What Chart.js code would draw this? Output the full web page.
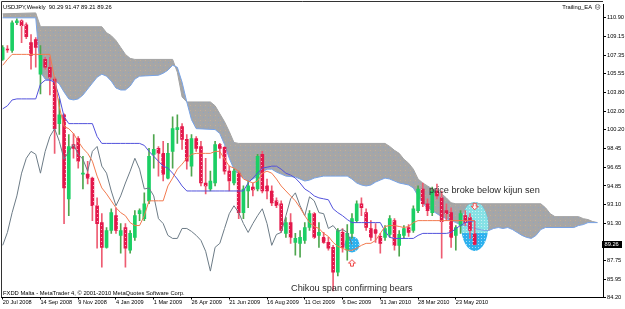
<!DOCTYPE html>
<html lang="en">
<head>
<meta charset="UTF-8">
<title>USDJPY Weekly - Ichimoku</title>
<script src="https://cdn.jsdelivr.net/npm/chart.js"></script>
<style>
  html, body { margin: 0; padding: 0; background: #fff; }
  #wrap { width: 625px; height: 309px; }
</style>
</head>
<body>
<div id="wrap"><canvas id="chart" width="625" height="309"></canvas></div>
<script>
// weekly bars, first bar = week of 20 Jul 2008, last = 20 Jun 2010
const opens = [
  106.93, 107.92, 107.78, 110.43, 110.62, 110.24, 108.54, 108.82, 105.52, 106.93,
  106.18, 105.05, 100.80, 101.65, 93.62, 98.81, 99.38, 95.98, 95.98, 95.60,
  92.96, 91.35, 88.99, 90.60, 92.01, 90.13, 90.88, 88.71, 89.94, 92.20,
  91.73, 93.43, 97.87, 98.44, 97.96, 95.60, 98.15, 100.23, 100.51, 99.29,
  96.74, 99.38, 98.62, 95.13, 94.56, 95.13, 98.81, 98.53, 96.26, 95.13,
  96.07, 92.30, 94.37, 94.75, 94.56, 97.87, 94.85, 94.37, 93.43, 93.15,
  90.32, 91.35, 89.46, 89.37, 89.65, 90.88, 92.20, 90.13, 89.94, 89.46,
  88.99, 86.63, 90.41, 88.71, 90.32, 91.54, 93.15, 92.30, 90.79, 90.69,
  90.03, 89.94, 90.22, 91.54, 89.18, 90.13, 90.88, 90.60, 92.49, 94.56,
  93.15, 92.30, 94.37, 93.71, 92.49, 92.30, 90.13, 91.07, 92.01, 91.83,
  90.29
];
const highs = [
  108.26, 108.26, 110.62, 110.81, 110.71, 110.43, 109.29, 109.01, 108.26, 107.12,
  107.12, 105.23, 103.16, 101.74, 99.76, 99.85, 99.57, 97.68, 97.21, 95.70,
  93.71, 92.20, 90.88, 92.67, 92.77, 91.26, 91.26, 90.60, 92.49, 92.67,
  94.19, 98.44, 99.76, 98.62, 99.10, 98.91, 101.46, 101.65, 100.80, 99.76,
  99.76, 99.57, 99.10, 97.49, 96.26, 99.10, 98.91, 98.62, 96.74, 96.45,
  96.26, 94.85, 95.32, 95.13, 97.87, 98.15, 95.51, 94.85, 93.71, 93.43,
  91.83, 92.20, 90.32, 90.60, 91.35, 92.49, 92.30, 91.35, 90.41, 89.94,
  89.18, 90.79, 90.79, 91.16, 92.20, 93.43, 93.71, 92.67, 91.54, 91.26,
  90.32, 91.07, 92.01, 91.73, 90.60, 91.07, 91.16, 92.96, 94.85, 95.13,
  93.62, 94.75, 95.04, 94.37, 93.15, 92.77, 91.07, 92.49, 92.49, 92.20,
  91.47
];
const lows = [
  106.84, 107.59, 107.59, 110.24, 108.54, 108.92, 105.99, 106.18, 103.63, 105.99,
  103.53, 97.96, 99.76, 91.26, 92.01, 97.49, 96.55, 94.56, 95.04, 91.54,
  88.90, 87.10, 88.90, 90.32, 90.32, 88.43, 87.10, 88.43, 89.65, 91.54,
  91.54, 93.15, 96.55, 95.79, 95.32, 95.51, 96.55, 98.90, 98.34, 96.45,
  95.79, 98.15, 94.85, 94.09, 94.37, 94.85, 97.49, 95.98, 94.37, 94.94,
  91.73, 91.73, 92.77, 93.90, 94.37, 94.19, 93.62, 92.96, 92.77, 90.41,
  89.94, 89.37, 88.24, 88.05, 89.37, 90.60, 89.84, 88.99, 89.37, 88.71,
  84.84, 86.25, 88.52, 87.76, 89.84, 91.35, 92.01, 90.60, 89.65, 89.46,
  88.43, 89.65, 89.94, 88.71, 88.14, 89.84, 90.03, 90.41, 92.30, 92.86,
  92.01, 92.01, 93.62, 87.95, 91.54, 88.99, 88.71, 90.32, 91.07, 89.84,
  89.21
];
const closes = [
  108.07, 107.83, 110.43, 110.62, 110.14, 109.11, 107.31, 108.07, 107.31, 106.18,
  105.23, 100.32, 101.65, 94.66, 98.62, 98.44, 97.21, 96.07, 95.60, 92.96,
  91.26, 88.99, 90.60, 92.30, 90.60, 90.60, 88.90, 90.32, 92.01, 92.49,
  93.15, 97.68, 98.34, 97.96, 95.98, 97.96, 100.32, 100.42, 99.29, 97.21,
  99.38, 98.44, 95.13, 94.85, 95.32, 98.81, 98.44, 96.26, 95.32, 96.26,
  92.30, 94.56, 94.85, 94.47, 97.68, 94.37, 94.37, 93.24, 92.96, 90.60,
  91.35, 89.94, 89.84, 89.94, 90.88, 92.20, 89.94, 90.41, 89.46, 88.90,
  86.63, 90.60, 88.99, 90.32, 91.73, 93.15, 92.77, 90.88, 89.94, 90.32,
  89.37, 90.79, 91.73, 89.18, 90.22, 90.79, 90.41, 92.67, 94.56, 93.15,
  92.49, 94.37, 93.90, 91.45, 92.20, 89.94, 90.88, 92.20, 91.35, 90.60,
  89.26
];

// Ichimoku lines
const tenkan = [
  106.37, 106.93, 107.41, 107.41, 107.41, 107.41, 107.41, 107.41, 107.41, 107.41,
  107.41, 105.05, 102.40, 100.51, 100.32, 99.85, 99.10, 98.44, 97.96, 97.21,
  95.79, 94.66, 94.09, 93.43, 92.77, 92.30, 92.01, 91.35, 91.07, 91.07,
  92.01, 93.43, 93.43, 93.43, 93.43, 94.85, 95.60, 96.45, 96.93, 97.49,
  97.87, 97.96, 97.96, 97.96, 97.96, 98.15, 98.15, 97.40, 96.74, 96.55,
  96.26, 95.51, 95.32, 95.13, 95.32, 96.07, 96.26, 96.07, 95.51, 94.85,
  94.37, 93.90, 93.43, 92.77, 92.01, 91.35, 90.98, 90.79, 90.32, 90.03,
  89.46, 89.08, 88.90, 88.71, 88.71, 88.90, 89.18, 89.37, 89.37, 89.65,
  90.32, 90.98, 91.07, 91.07, 90.98, 90.88, 90.98, 91.35, 91.54, 91.54,
  91.54, 91.54, 91.54, 91.54, 91.54, 91.54, 91.54, 91.54, 91.54, 91.54,
  91.54
];
const kijun = [
  102.21, 102.50, 103.06, 103.16, 103.16, 103.16, 103.16, 103.16, 104.57, 104.95,
  104.95, 104.76, 103.35, 101.46, 100.80, 100.80, 100.80, 100.80, 100.80, 100.80,
  99.57, 98.91, 98.91, 98.91, 98.91, 98.91, 98.91, 98.91, 98.91, 98.91,
  98.72, 98.15, 97.68, 97.21, 96.74, 96.55, 96.07, 95.51, 94.85, 94.37,
  94.37, 94.37, 94.37, 94.37, 94.37, 94.37, 94.37, 94.37, 94.37, 94.37,
  94.37, 94.37, 95.13, 95.60, 96.07, 96.55, 96.64, 96.74, 96.74, 96.45,
  96.07, 95.89, 95.60, 95.13, 94.56, 94.28, 93.90, 93.71, 93.62, 93.53,
  92.67, 92.30, 92.01, 91.64, 91.35, 91.35, 91.35, 91.35, 91.35, 91.35,
  91.35, 90.51, 89.94, 89.84, 89.84, 89.84, 89.84, 89.84, 90.13, 90.32,
  90.32, 90.32, 90.32, 90.32, 90.32, 90.41, 90.79, 91.07, 91.35, 91.45,
  91.54
];
// lagging span, drawn from bar 0 (26 bars back)
const chikou = [
  89.18, 90.41, 92.30, 93.90, 96.07, 97.49, 98.15, 97.87, 96.07, 98.15,
  99.57, 100.32, 99.10, 97.40, 98.15, 98.81, 97.87, 97.40, 96.26, 98.15,
  98.62, 96.74, 96.07, 94.37, 92.96, 93.90, 95.13, 96.26, 97.49, 96.45,
  94.56, 94.66, 93.90, 91.73, 91.26, 90.13, 89.84, 89.84, 90.79, 90.79,
  90.51, 90.13, 89.65, 88.61, 86.72, 88.99, 89.37, 90.79, 92.20, 92.96,
  92.30, 91.26, 90.41, 91.26, 92.01, 92.67, 91.26, 89.18, 90.22, 90.41,
  92.01, 93.62, 94.19, 92.96, 92.01, 93.81, 93.43, 92.30, 92.20, 90.79,
  91.07, 90.51, 90.69, 90.41, 89.27
];
// cloud edges (bar index -> price), runs 26 bars past the last candle
const cloudUpperAt = [
  0, 7, 8, 21, 22, 23, 24, 25, 26, 27, 28, 36, 37, 38, 39, 44, 45, 46, 47, 48,
  49, 50, 81, 82, 83, 84, 85, 86, 87, 88, 89, 90, 91, 92, 93, 94, 95, 96, 114, 115,
  116, 117, 122, 123, 124, 125, 126
];
const cloudUpper = [
  111.28, 111.37, 110.05, 110.05, 109.48, 109.20, 108.73, 108.07, 107.41, 107.03,
  106.93, 106.93, 105.71, 103.35, 102.87, 102.87, 102.50, 101.74, 100.98, 100.04,
  99.00, 98.91, 98.91, 98.62, 98.25, 97.96, 97.40, 97.02, 96.45, 95.51,
  95.13, 94.85, 94.56, 94.37, 94.09, 93.71, 93.24, 93.15, 93.15, 92.77,
  92.20, 91.92, 91.92, 91.73, 91.64, 91.45, 91.35
];
const cloudLowerAt = [
  0, 7, 8, 9, 11, 12, 13, 14, 15, 16, 17, 18, 19, 20, 21, 22, 23, 24, 25, 26,
  27, 28, 29, 33, 34, 35, 36, 37, 38, 39, 40, 41, 45, 46, 47, 48, 49, 50, 51, 52,
  53, 54, 55, 56, 57, 58, 59, 60, 62, 63, 64, 65, 66, 67, 68, 73, 74, 75, 76, 77,
  78, 79, 80, 81, 82, 83, 84, 85, 86, 87, 88, 89, 90, 91, 92, 93, 94, 95, 96, 97,
  98, 99, 100, 101, 102, 103, 104, 105, 106, 107, 108, 109, 110, 111, 112, 113, 114, 115, 121, 122,
  123, 124, 126
];
const cloudLower = [
  110.90, 110.90, 105.71, 105.05, 104.95, 104.57, 103.82, 103.16, 103.06, 103.16,
  103.53, 104.10, 104.67, 105.23, 105.52, 105.33, 104.86, 104.20, 104.01, 104.01,
  104.38, 105.05, 105.33, 105.42, 105.61, 105.90, 106.37, 106.18, 104.76, 102.87,
  101.17, 100.32, 100.23, 99.85, 98.81, 97.49, 96.45, 95.89, 95.60, 95.32,
  95.51, 95.79, 96.17, 96.45, 96.45, 96.17, 95.98, 95.79, 95.70, 95.51,
  95.32, 95.41, 95.60, 95.70, 95.79, 95.79, 95.51, 95.13, 94.94, 94.85,
  94.94, 95.22, 95.41, 95.60, 95.51, 95.32, 95.13, 95.04, 94.94, 94.66,
  93.90, 93.15, 92.77, 92.49, 92.20, 91.92, 91.73, 91.54, 91.35, 91.16,
  91.07, 90.98, 90.79, 90.69, 90.60, 90.60, 90.79, 90.88, 90.79, 90.88,
  90.69, 90.41, 90.13, 89.94, 89.84, 90.13, 90.69, 90.88, 90.88, 91.07,
  91.16, 91.35, 91.35
];

const weekTickIdx = [0, 8, 16, 24, 32, 40, 48, 56, 64, 72, 80, 88, 96];
const weekLabels = ['20 Jul 2008', '14 Sep 2008', '9 Nov 2008', '4 Jan 2009', '1 Mar 2009',
  '26 Apr 2009', '21 Jun 2009', '16 Aug 2009', '11 Oct 2009', '6 Dec 2009',
  '31 Jan 2010', '28 Mar 2010', '23 May 2010'];
const priceTicks = [110.90, 109.15, 107.35, 105.55, 103.80, 102.00, 100.20, 98.45,
  96.65, 94.85, 93.10, 91.30, 87.75, 85.95, 84.20];

const smallFont = '"Liberation Sans", Arial, sans-serif';

// small dotted fills like the MT4 hatch
function tile(size, base, dots) {
  const c = document.createElement('canvas');
  c.width = size; c.height = size;
  const g = c.getContext('2d');
  if (base) { g.fillStyle = base; g.fillRect(0, 0, size, size); }
  dots.forEach(([px, py, col]) => { g.fillStyle = col; g.fillRect(px, py, 1, 1); });
  return g.createPattern(c, 'repeat');
}
const cloudFill = tile(5, '#a6a6a6', [[0, 0, '#c4ad98'], [3, 2, '#8ea2c4']]);
const bearFill = tile(4, '#e3184b', [[1, 1, '#ffa3b8']]);
const dotFill = tile(3, null, [[1, 1, 'rgba(255,255,255,0.55)']]);

const bars = opens.map((_, i) => i);
const isBull = bars.map(i => closes[i] >= opens[i]);
const pts = (arr, at) => arr.map((v, i) => ({ x: at ? at[i] : i, y: v }));

const circles = [
  { at: 74, price: 89.27, rx: 7.5, ry: 8 },
  { at: 100, price: 90.98, rx: 13.5, ry: 24.5, split: 90.35 }
];

function arrow(ctx, cx, cy, dir) {
  ctx.beginPath();
  ctx.moveTo(cx, cy - 3.5 * dir);
  ctx.lineTo(cx + 3.5, cy);
  ctx.lineTo(cx + 1.5, cy);
  ctx.lineTo(cx + 1.5, cy + 3 * dir);
  ctx.lineTo(cx - 1.5, cy + 3 * dir);
  ctx.lineTo(cx - 1.5, cy);
  ctx.lineTo(cx - 3.5, cy);
  ctx.closePath();
  ctx.fillStyle = '#fff2f2';
  ctx.fill();
  ctx.strokeStyle = '#ee4c4c';
  ctx.lineWidth = 1;
  ctx.stroke();
}

const overlay = {
  id: 'overlay',
  beforeDatasetsDraw(chart) {
    const { ctx, chartArea: a, scales: { x, y } } = chart;
    ctx.save();
    ctx.beginPath();
    ctx.rect(a.left, a.top, a.right - a.left, a.bottom - a.top);
    ctx.clip();
    circles.forEach(c => {
      const cx = x.getPixelForValue(c.at), cy = y.getPixelForValue(c.price);
      ctx.save();
      ctx.beginPath();
      ctx.ellipse(cx, cy, c.rx, c.ry, 0, 0, Math.PI * 2);
      ctx.fillStyle = '#2db1ee';
      ctx.fill();
      ctx.clip();
      if (c.split) {
        const sy = y.getPixelForValue(c.split);
        ctx.fillStyle = '#86e1e5';
        ctx.fillRect(cx - c.rx - 1, cy - c.ry - 1, c.rx * 2 + 2, sy - (cy - c.ry - 1));
      }
      ctx.fillStyle = dotFill;
      ctx.fillRect(cx - c.rx - 1, cy - c.ry - 1, c.rx * 2 + 2, c.ry * 2 + 2);
      ctx.restore();
    });
    ctx.restore();
  },
  afterDraw(chart) {
    const { ctx, chartArea: a, scales: { x, y } } = chart;
    const last = opens.length - 1;
    ctx.save();
    // frame
    ctx.strokeStyle = '#333';
    ctx.lineWidth = 1;
    ctx.beginPath();
    ctx.moveTo(1.5, a.bottom);
    ctx.lineTo(1.5, 1.5);
    ctx.lineTo(a.right, 1.5);
    ctx.stroke();

    // signal arrows
    arrow(ctx, x.getPixelForValue(74), y.getPixelForValue(87.48), 1);
    arrow(ctx, x.getPixelForValue(100), y.getPixelForValue(92.91), -1);

    ctx.textBaseline = 'middle';
    ctx.fillStyle = '#000';
    ctx.font = '5.8px ' + smallFont;
    ctx.textAlign = 'left';
    ctx.fillText('USDJPY,Weekly  ' + [opens[last], highs[last], lows[last], closes[last]]
      .map(v => v.toFixed(2)).join(' '), 3, 7.5);
    ctx.fillText('FXDD Malta - MetaTrader 4, \u00a9 2001-2010 MetaQuotes Software Corp.', 3, 293.5);
    ctx.textAlign = 'right';
    ctx.fillText('Trailing_EA', 592, 7.5);
    ctx.font = '6px "DejaVu Sans", sans-serif';
    ctx.textAlign = 'left';
    ctx.fillText('\u2639', 594.5, 7.5);

    // notes
    ctx.fillStyle = '#2b2b2b';
    ctx.textBaseline = 'alphabetic';
    ctx.font = '9.2px ' + smallFont;
    ctx.fillText('price broke below kijun sen', 429, 192.5);
    ctx.fillText('Chikou span confirming bears', 291, 290.8);

    // last price marker
    const py = y.getPixelForValue(closes[last]);
    ctx.fillStyle = '#000';
    ctx.fillRect(a.right - 1, py - 3.5, 20, 7);
    ctx.fillStyle = '#fff';
    ctx.textBaseline = 'middle';
    ctx.font = '5.7px ' + smallFont;
    ctx.fillText(closes[last].toFixed(2), a.right + 1.5, py + 0.3);
    ctx.restore();
  }
};

new Chart(document.getElementById('chart'), {
  type: 'bar',
  data: {
    datasets: [
      {
        type: 'line', label: 'Senkou 1', data: pts(cloudUpper, cloudUpperAt),
        borderColor: '#a3a3a3', borderWidth: 1, pointRadius: 0, tension: 0,
        fill: '+1', backgroundColor: cloudFill, order: 10
      },
      {
        type: 'line', label: 'Senkou 2', data: pts(cloudLower, cloudLowerAt),
        borderColor: '#78a3e6', borderWidth: 1, pointRadius: 0, tension: 0,
        fill: false, order: 9
      },
      {
        label: 'Wicks', data: bars.map(i => ({ x: i, y: [lows[i], highs[i]] })),
        backgroundColor: bars.map(i => isBull[i] ? '#4ea64e' : '#ee5c72'),
        barThickness: 1, grouped: false, borderWidth: 0, order: 6
      },
      {
        label: 'Bodies', data: bars.map(i => ({ x: i, y: [opens[i], closes[i]] })),
        backgroundColor: bars.map(i => isBull[i] ? '#1bcf64' : bearFill),
        barThickness: 3, grouped: false, borderWidth: 0, minBarLength: 1, order: 5
      },
      {
        type: 'line', label: 'Chikou', data: pts(chikou),
        borderColor: '#6c7b86', borderWidth: 1, pointRadius: 0, tension: 0, fill: false, order: 3
      },
      {
        type: 'line', label: 'Kijun', data: pts(kijun),
        borderColor: '#5252dc', borderWidth: 1, pointRadius: 0, tension: 0, fill: false, order: 2
      },
      {
        type: 'line', label: 'Tenkan', data: pts(tenkan),
        borderColor: '#f27a4f', borderWidth: 1, pointRadius: 0, tension: 0, fill: false, order: 1
      }
    ]
  },
  options: {
    responsive: false,
    devicePixelRatio: 1,
    animation: false,
    events: [],
    layout: { padding: { left: 1, top: 1.5, right: 0, bottom: 0 } },
    plugins: {
      legend: { display: false },
      tooltip: { enabled: false },
      filler: { drawTime: 'beforeDatasetsDraw' }
    },
    scales: {
      x: {
        type: 'linear', min: -0.36, max: 127.18, offset: false,
        afterBuildTicks: s => { s.ticks = weekTickIdx.map(v => ({ value: v })); },
        afterFit: s => { s.height = 11.5; },
        ticks: {
          autoSkip: false, maxRotation: 0, minRotation: 0, align: 'start', padding: 0,
          color: '#000', font: { family: smallFont, size: 5.6 },
          callback: v => weekLabels[weekTickIdx.indexOf(v)]
        },
        grid: { drawOnChartArea: false, drawTicks: true, tickLength: 2, color: '#000', offset: false },
        border: { display: true, color: '#000', width: 1 }
      },
      y: {
        position: 'right', min: 84.20, max: 112.18,
        afterBuildTicks: s => { s.ticks = priceTicks.map(v => ({ value: v })); },
        afterFit: s => { s.width = 22; },
        ticks: {
          autoSkip: false, padding: 1, color: '#000',
          font: { family: smallFont, size: 5.7 },
          callback: v => v.toFixed(2)
        },
        grid: { drawOnChartArea: false, drawTicks: true, tickLength: 3, color: '#000' },
        border: { display: true, color: '#000', width: 1 }
      }
    }
  },
  plugins: [overlay]
});
</script>
</body>
</html>
